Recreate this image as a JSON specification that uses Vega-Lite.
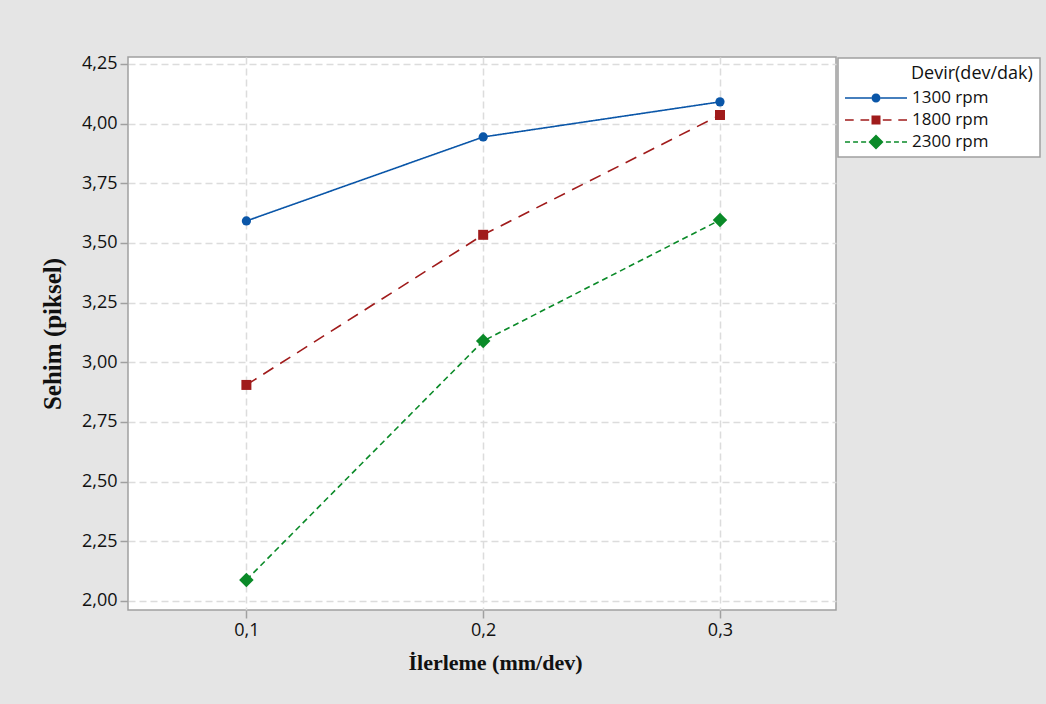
{
  "$schema": "https://vega.github.io/schema/vega-lite/v6.json",
  "width": 708,
  "height": 553,
  "autosize": {"type": "none"},
  "padding": {"left": 128, "top": 57, "right": 210, "bottom": 94},
  "background": "#e5e5e5",
  "config": {
    "view": {"fill": "white", "stroke": "#a0a0a0", "strokeWidth": 1.5},
    "axis": {
      "domain": false,
      "grid": true,
      "gridColor": "#dcdcdc",
      "gridDash": [7, 4],
      "gridWidth": 1.5,
      "tickColor": "#a0a0a0",
      "tickSize": 8,
      "tickWidth": 1.5,
      "labelFont": "Open Sans",
      "labelFontSize": 18,
      "labelColor": "#111111",
      "labelPadding": 3,
      "titleFont": "Liberation Serif",
      "titleFontWeight": "bold",
      "titleFontSize": 22,
      "titleColor": "#111111"
    },
    "legend": {
      "orient": "none",
      "legendX": 710,
      "legendY": 1,
      "fillColor": "white",
      "strokeColor": "#a0a0a0",
      "padding": 7,
      "labelOffset": 47,
      "symbolSize": 400,
      "symbolStrokeWidth": 0,
      "symbolOpacity": 1
    }
  },
  "data": {
    "values": [
      {"ilerleme": 0.1, "sehim": 3.592, "devir": "1300 rpm"},
      {"ilerleme": 0.2, "sehim": 3.944, "devir": "1300 rpm"},
      {"ilerleme": 0.3, "sehim": 4.091, "devir": "1300 rpm"},
      {"ilerleme": 0.1, "sehim": 2.905, "devir": "1800 rpm"},
      {"ilerleme": 0.2, "sehim": 3.534, "devir": "1800 rpm"},
      {"ilerleme": 0.3, "sehim": 4.036, "devir": "1800 rpm"},
      {"ilerleme": 0.1, "sehim": 2.088, "devir": "2300 rpm"},
      {"ilerleme": 0.2, "sehim": 3.089, "devir": "2300 rpm"},
      {"ilerleme": 0.3, "sehim": 3.596, "devir": "2300 rpm"}
    ]
  },
  "encoding": {
    "x": {
      "field": "ilerleme",
      "type": "quantitative",
      "scale": {"domain": [0.05, 0.349], "nice": false, "zero": false},
      "axis": {
        "title": "İlerleme (mm/dev)",
        "values": [0.1, 0.2, 0.3],
        "labelExpr": "replace(format(datum.value, '.1f'), '.', ',')",
        "titlePadding": 13,
        "titleX": 367
      }
    },
    "y": {
      "field": "sehim",
      "type": "quantitative",
      "scale": {"domain": [1.962, 4.279], "nice": false, "zero": false},
      "axis": {
        "title": "Sehim (piksel)",
        "values": [2, 2.25, 2.5, 2.75, 3, 3.25, 3.5, 3.75, 4, 4.25],
        "labelExpr": "replace(format(datum.value, '.2f'), '.', ',')",
        "titlePadding": 16,
        "titleFontSize": 25
      }
    },
    "color": {
      "field": "devir",
      "type": "nominal",
      "scale": {"domain": ["1300 rpm", "1800 rpm", "2300 rpm"], "range": ["#0a56a8", "#a01b1b", "#0a8a28"]}
    }
  },
  "layer": [
    {
      "mark": {"type": "point", "filled": true, "opacity": 0},
      "encoding": {
        "color": {
          "field": "devir",
          "type": "nominal",
          "legend": {
            "title": "Devir(dev/dak)",
            "titleFont": "Open Sans",
            "titleFontWeight": "normal",
            "titleFontSize": 18,
            "titleColor": "#111111",
            "titlePadding": 5,
            "labelFont": "Open Sans",
            "labelFontSize": 17,
            "labelColor": "#111111",
            "rowPadding": 4,
            "encode": {
              "legend": {"update": {"strokeWidth": {"value": 1.5}, "height": {"value": 117}}},
              "title": {"update": {"dx": {"value": 66}}}
            }
          }
        },
        "shape": {
          "field": "devir",
          "type": "nominal",
          "scale": {
            "domain": ["1300 rpm", "1800 rpm", "2300 rpm"],
            "range": [
              "M-1,-0.075H1.65V0.075H-1Z M2.55,-0.075H5.2V0.075H2.55Z M1.65,0A0.45,0.45 0 1,0 2.55,0A0.45,0.45 0 1,0 1.65,0Z",
              "M-1,-0.075H-0.13V0.075H-1Z M0.55,-0.075H1.42V0.075H0.55Z M1.65,-0.45H2.55V0.45H1.65Z M2.78,-0.075H3.65V0.075H2.78Z M4.33,-0.075H5.2V0.075H4.33Z",
              "M-1,-0.075H-0.5V0.075H-1Z M-0.19,-0.075H0.3V0.075H-0.19Z M0.61,-0.075H1.11V0.075H0.61Z M2.1,-0.75L2.85,0L2.1,0.75L1.35,0Z M3.09,-0.075H3.59V0.075H3.09Z M3.9,-0.075H4.39V0.075H3.9Z M4.7,-0.075H5.2V0.075H4.7Z"
            ]
          },
          "legend": {"title": "Devir(dev/dak)"}
        }
      }
    },
    {
      "mark": {"type": "line", "strokeWidth": 1.6},
      "encoding": {
        "strokeDash": {
          "field": "devir",
          "type": "nominal",
          "scale": {"domain": ["1300 rpm", "1800 rpm", "2300 rpm"], "range": [[1, 0], [12, 8], [6, 4]]},
          "legend": null
        }
      }
    },
    {
      "transform": [{"filter": "datum.devir === '1300 rpm'"}],
      "mark": {"type": "point", "shape": "circle", "filled": true, "opacity": 1, "size": 85}
    },
    {
      "transform": [{"filter": "datum.devir === '1800 rpm'"}],
      "mark": {"type": "point", "shape": "square", "filled": true, "opacity": 1, "size": 100}
    },
    {
      "transform": [{"filter": "datum.devir === '2300 rpm'"}],
      "mark": {"type": "point", "shape": "diamond", "filled": true, "opacity": 1, "size": 210}
    }
  ]
}
